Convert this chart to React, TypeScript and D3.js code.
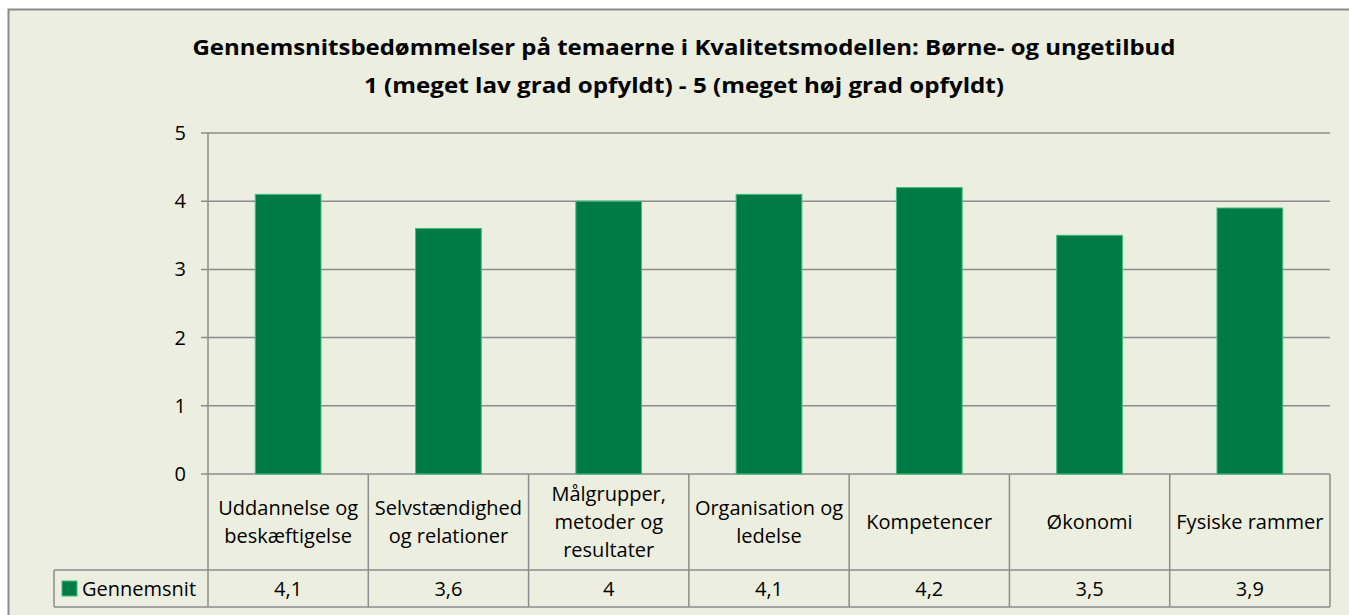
import React from "react";
import * as d3 from "d3";

const titleLines = [
  "Gennemsnitsbedømmelser på temaerne i Kvalitetsmodellen: Børne- og ungetilbud",
  "1 (meget lav grad opfyldt) - 5 (meget høj grad opfyldt)",
];
const categories: string[][] = [
  ["Uddannelse og", "beskæftigelse"],
  ["Selvstændighed", "og relationer"],
  ["Målgrupper,", "metoder og", "resultater"],
  ["Organisation og", "ledelse"],
  ["Kompetencer"],
  ["Økonomi"],
  ["Fysiske rammer"],
];
const seriesName = "Gennemsnit";
const values = [4.1, 3.6, 4, 4.1, 4.2, 3.5, 3.9];
const valueLabels = ["4,1", "3,6", "4", "4,1", "4,2", "3,5", "3,9"];
const yTicks = [0, 1, 2, 3, 4, 5];

const W = 1349;
const H = 615;
const plotLeft = 208;
const plotRight = 1330;
const plotTop = 133;
const plotBottom = 474;
const catRowBottom = 570;
const valRowBottom = 607;
const legendLeft = 54;

const BG = "#ECEEDF";
const GRID = "#8C8C8C";
const BAR = "#007B45";
const BAR_EDGE = "#3CC07A";
const FONT = "'Open Sans', sans-serif";
const FS = 20;

export default function App() {
  const x = d3
    .scaleBand<number>()
    .domain(d3.range(categories.length))
    .range([plotLeft, plotRight])
    .paddingInner(0.59)
    .paddingOuter(0.295);
  const band = d3.scaleBand<number>().domain(d3.range(categories.length)).range([plotLeft, plotRight]);
  const y = d3.scaleLinear().domain([0, 5]).range([plotBottom, plotTop]);
  const colW = band.bandwidth();

  return (
    <div style={{ position: "fixed", left: 0, top: 0, width: W, height: H, background: "#fff" }}>
      <svg width={W} height={H} style={{ display: "block" }} fontFamily={FONT}>
        <rect x={8.5} y={9.5} width={W + 20} height={H + 20} fill={BG} stroke={GRID} strokeWidth={2} />
        {titleLines.map((t, i) => (
          <text
            key={i}
            x={684}
            y={55 + i * 38}
            textAnchor="middle"
            fontSize={22}
            fontWeight="bold"
            fill="#000"
            textLength={i === 0 ? 983 : 640}
            lengthAdjust="spacingAndGlyphs"
          >
            {t}
          </text>
        ))}
        {yTicks.map((t) => (
          <g key={t}>
            <line x1={201} x2={plotRight} y1={y(t)} y2={y(t)} stroke={GRID} strokeWidth={1.5} />
            <text x={186} y={y(t) + 7} textAnchor="end" fontSize={FS} fill="#000">
              {t}
            </text>
          </g>
        ))}
        {values.map((v, i) => (
          <rect
            key={i}
            x={x(i)!}
            y={y(v)}
            width={x.bandwidth()}
            height={y(0) - y(v)}
            fill={BAR}
            stroke={BAR_EDGE}
            strokeWidth={1}
          />
        ))}
        <line x1={plotLeft} x2={plotLeft} y1={plotTop} y2={valRowBottom} stroke={GRID} strokeWidth={1.5} />
        {categories.map((_, i) => (
          <line
            key={i}
            x1={band(i)! + colW}
            x2={band(i)! + colW}
            y1={plotBottom}
            y2={valRowBottom}
            stroke={GRID}
            strokeWidth={1.5}
          />
        ))}
        <line x1={legendLeft} x2={plotRight} y1={catRowBottom} y2={catRowBottom} stroke={GRID} strokeWidth={1.5} />
        <line x1={legendLeft} x2={plotRight} y1={valRowBottom} y2={valRowBottom} stroke={GRID} strokeWidth={1.5} />
        <line x1={legendLeft} x2={legendLeft} y1={catRowBottom} y2={valRowBottom} stroke={GRID} strokeWidth={1.5} />
        {categories.map((lines, i) => {
          const cx = band(i)! + colW / 2;
          const lh = 28;
          const cy = (plotBottom + catRowBottom) / 2;
          const start = cy - ((lines.length - 1) * lh) / 2;
          return (
            <text key={i} textAnchor="middle" fontSize={FS} fill="#000">
              {lines.map((l, j) => (
                <tspan key={j} x={cx} y={start + j * lh + 7}>
                  {l}
                </tspan>
              ))}
            </text>
          );
        })}
        {valueLabels.map((l, i) => (
          <text
            key={i}
            x={band(i)! + colW / 2}
            y={(catRowBottom + valRowBottom) / 2 + 7}
            textAnchor="middle"
            fontSize={FS}
            fill="#000"
          >
            {l}
          </text>
        ))}
        <rect x={62} y={581} width={15} height={15} fill={BAR} stroke={BAR_EDGE} strokeWidth={1} />
        <text x={82} y={(catRowBottom + valRowBottom) / 2 + 7} fontSize={FS} fill="#000">
          {seriesName}
        </text>
      </svg>
    </div>
  );
}
